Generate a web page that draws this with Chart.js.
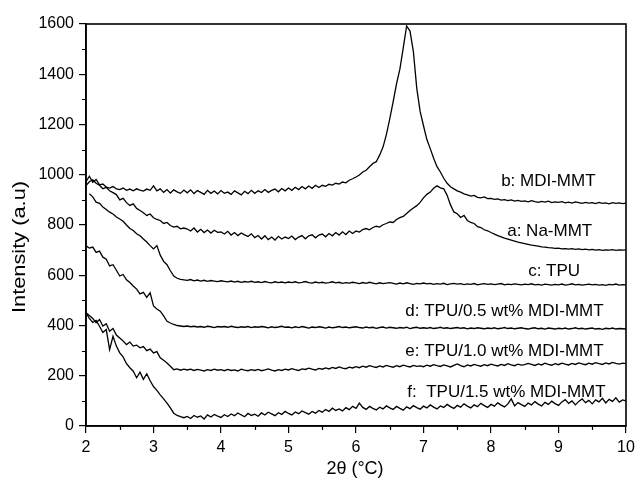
<!DOCTYPE html>
<html>
<head>
<meta charset="utf-8">
<script src="https://cdn.jsdelivr.net/npm/chart.js@4/dist/chart.umd.min.js"></script>
<style>
  html, body { margin: 0; padding: 0; background: #fff; }
  #wrap { width: 636px; height: 486px; }
</style>
</head>
<body>
<div id="wrap"><canvas id="c" width="636" height="486"></canvas></div>
<script>
// 2θ scan positions (degrees)
const twoTheta = [
  2.00,2.05,2.10,2.15,2.20,2.25,2.30,2.35,2.40,2.45,
  2.50,2.55,2.60,2.65,2.70,2.75,2.80,2.85,2.90,2.95,
  3.00,3.05,3.10,3.15,3.20,3.25,3.30,3.35,3.40,3.45,
  3.50,3.55,3.60,3.65,3.70,3.75,3.80,3.85,3.90,3.95,
  4.00,4.05,4.10,4.15,4.20,4.25,4.30,4.35,4.40,4.45,
  4.50,4.55,4.60,4.65,4.70,4.75,4.80,4.85,4.90,4.95,
  5.00,5.05,5.10,5.15,5.20,5.25,5.30,5.35,5.40,5.45,
  5.50,5.55,5.60,5.65,5.70,5.75,5.80,5.85,5.90,5.95,
  6.00,6.05,6.10,6.15,6.20,6.25,6.30,6.35,6.40,6.45,
  6.50,6.55,6.60,6.65,6.70,6.75,6.80,6.85,6.90,6.95,
  7.00,7.05,7.10,7.15,7.20,7.25,7.30,7.35,7.40,7.45,
  7.50,7.55,7.60,7.65,7.70,7.75,7.80,7.85,7.90,7.95,
  8.00,8.05,8.10,8.15,8.20,8.25,8.30,8.35,8.40,8.45,
  8.50,8.55,8.60,8.65,8.70,8.75,8.80,8.85,8.90,8.95,
  9.00,9.05,9.10,9.15,9.20,9.25,9.30,9.35,9.40,9.45,
  9.50,9.55,9.60,9.65,9.70,9.75,9.80,9.85,9.90,9.95,
  10.00
];

// b: MDI-MMT
const mdiMMT = [
  972,994,970,981,960,963,951,947,953,944,
  941,947,938,943,936,944,939,935,943,938,
  956,936,944,930,941,927,940,932,926,939,
  928,940,925,937,930,922,938,926,935,924,
  937,926,931,922,936,928,920,934,925,938,
  926,936,929,941,930,938,943,932,945,936,
  947,938,950,941,953,944,955,946,958,949,
  958,954,962,959,966,963,971,968,978,984,
  991,999,1011,1018,1032,1045,1052,1078,1110,1160,
  1222,1290,1362,1420,1505,1592,1572,1490,1345,1252,
  1195,1140,1104,1066,1032,1011,986,966,952,944,
  936,931,924,920,915,918,910,908,912,905,
  906,902,904,899,901,897,900,895,898,894,
  896,892,897,893,890,894,891,895,889,892,
  890,893,888,891,887,892,889,886,890,887,
  889,885,890,886,888,884,889,886,888,885,
  887
];

// a: Na-MMT
const naMMT = [
  957,972,980,966,958,944,950,936,929,921,
  900,906,889,878,884,866,858,849,838,844,
  829,822,818,806,810,798,792,795,785,788,
  784,776,788,772,783,770,780,768,779,771,
  772,764,775,760,770,758,768,761,754,765,
  750,758,744,757,742,752,740,755,744,752,
  746,756,742,752,758,745,757,761,749,760,
  764,753,766,757,770,760,773,762,776,766,
  776,772,782,786,781,790,795,792,801,806,
  812,810,822,829,834,846,858,868,877,890,
  908,922,931,946,956,948,944,918,880,852,
  845,830,838,818,810,806,793,790,781,777,
  770,764,758,753,748,744,740,736,732,729,
  726,723,720,718,716,713,712,710,709,707,
  708,705,706,704,706,703,705,702,704,701,
  703,700,702,699,701,700,702,699,701,700,
  701
];

// c: TPU
const tpu = [
  null,924,912,891,886,872,862,851,844,832,
  824,815,800,786,778,765,757,744,732,718,
  705,718,680,655,642,618,597,588,584,582,
  580,583,578,581,577,580,576,579,577,575,
  578,576,574,577,573,576,572,575,573,576,
  572,574,571,575,572,570,574,571,573,570,
  573,571,574,570,572,575,571,569,573,570,
  572,569,571,574,570,572,568,571,569,572,
  570,567,571,568,572,569,566,570,567,569,
  571,568,565,569,566,570,567,564,568,566,
  569,566,568,564,567,565,568,563,566,568,
  565,567,563,566,564,567,562,565,567,564,
  566,563,565,567,562,565,563,566,564,562,
  565,563,566,562,564,561,565,563,561,564,
  562,565,561,563,566,562,564,561,563,565,
  562,564,561,563,560,564,562,565,561,563,
  562
];

// d: TPU/0.5 wt% MDI-MMT
const tpu05 = [
  717,708,712,691,696,672,664,637,642,620,
  597,603,582,571,557,545,526,532,512,530,
  478,466,457,438,417,410,404,400,398,396,
  398,395,397,394,396,393,397,395,392,396,
  394,396,393,397,394,392,395,393,396,392,
  395,393,396,394,391,395,392,394,397,393,
  394,391,395,392,396,393,390,394,392,395,
  393,390,394,391,393,396,392,394,391,393,
  395,392,390,394,391,393,389,392,394,390,
  393,391,389,392,390,393,388,391,393,389,
  391,389,392,388,390,393,389,391,388,390,
  392,389,391,387,390,388,391,389,387,390,
  388,391,387,389,392,388,390,387,389,391,
  388,386,389,391,387,389,386,390,388,386,
  389,387,390,386,388,391,387,389,386,388,
  390,386,388,385,389,387,390,386,388,387,
  386
];

// e: TPU/1.0 wt% MDI-MMT
const tpu10 = [
  451,440,428,411,424,398,407,377,388,362,
  350,338,324,334,318,322,311,316,300,306,
  291,296,271,262,251,238,224,227,222,226,
  223,226,221,225,222,219,224,221,226,222,
  224,220,225,221,223,219,226,222,220,224,
  221,225,220,223,227,222,219,224,221,226,
  223,228,224,221,227,225,230,226,223,229,
  226,231,227,233,229,235,230,228,234,231,
  236,232,238,234,240,236,233,239,235,241,
  237,234,240,236,242,238,235,241,237,239,
  236,242,238,244,240,237,243,239,235,241,
  247,240,236,243,239,245,241,238,244,240,
  246,242,239,245,241,248,243,240,246,242,
  244,249,245,241,247,243,250,245,242,248,
  244,250,246,243,249,245,251,247,244,250,
  246,252,248,245,251,247,253,249,246,250,
  248
];

// f: TPU/1.5 wt% MDI-MMT
const tpu15 = [
  451,428,412,420,397,372,384,304,357,318,
  291,275,248,232,218,192,214,186,208,180,
  157,142,124,108,91,72,51,42,37,33,
  38,30,42,35,40,28,44,36,46,39,
  34,45,38,48,41,52,44,37,50,42,
  47,39,52,44,55,48,41,53,46,58,
  50,44,56,49,60,53,47,58,51,62,
  55,66,58,71,62,68,60,73,65,78,
  70,91,74,66,78,70,64,75,68,80,
  72,66,78,70,63,76,69,81,73,67,
  79,72,84,75,68,80,74,86,77,70,
  82,75,88,79,72,84,77,90,81,74,
  86,79,92,83,76,88,108,80,93,85,
  78,91,84,97,87,80,94,86,99,89,
  82,96,105,90,100,84,98,108,93,102,
  88,104,96,110,92,106,98,112,95,104,
  100
];

const seriesNames = ["b: MDI-MMT", "a: Na-MMT", "c: TPU",
  "d: TPU/0.5 wt% MDI-MMT", "e: TPU/1.0 wt% MDI-MMT", "f:  TPU/1.5 wt% MDI-MMT"];
const seriesValues = [mdiMMT, naMMT, tpu, tpu05, tpu10, tpu15];

// curve labels, anchored in data units (2θ, intensity) at the left/middle of the text
const labelX = [8.15, 8.24, 8.55, 6.73, 6.73, 6.76];
const labelY = [972, 776, 616, 456, 296, 136];

const xTitle = "2\u03b8 (\u00b0C)";
const yTitle = "Intensity (a.u)";

const FONT = "'Liberation Sans', Arial, Helvetica, sans-serif";

const datasets = seriesValues.map((vals, k) => ({
  label: seriesNames[k],
  data: twoTheta.map((t, i) => ({ x: t, y: vals[i] })),
  borderColor: '#000',
  borderWidth: 1.3,
  pointRadius: 0,
  tension: 0,
  spanGaps: false,
  fill: false
}));

const decorPlugin = {
  id: 'decor',
  afterDraw(chart) {
    const { ctx, chartArea: a, scales: { x, y } } = chart;
    ctx.save();
    // minor ticks
    ctx.strokeStyle = '#000';
    ctx.lineWidth = 1.2;
    ctx.beginPath();
    x.ticks.forEach(t => {
      if (Math.abs(t.value - Math.round(t.value)) > 1e-6) {
        const px = Math.round(x.getPixelForValue(t.value)) + 0.5;
        ctx.moveTo(px, a.bottom); ctx.lineTo(px, a.bottom + 4);
      }
    });
    y.ticks.forEach(t => {
      if (Math.round(t.value) % 200 !== 0) {
        const py = Math.round(y.getPixelForValue(t.value)) + 0.5;
        ctx.moveTo(a.left, py); ctx.lineTo(a.left - 4, py);
      }
    });
    ctx.stroke();
    // frame
    ctx.lineWidth = 1.6;
    ctx.strokeRect(a.left, a.top, a.right - a.left, a.bottom - a.top);
    // curve labels
    ctx.fillStyle = '#000';
    ctx.font = "17px " + FONT;
    ctx.textBaseline = 'middle';
    ctx.textAlign = 'left';
    seriesNames.forEach((name, k) => {
      ctx.fillText(name, x.getPixelForValue(labelX[k]), y.getPixelForValue(labelY[k]));
    });
    // x title
    ctx.font = "18px " + FONT;
    ctx.textAlign = 'center';
    ctx.fillText(xTitle, (a.left + a.right) / 2 - 1, 469);
    // y title (rotated, slightly stretched along its length like the original)
    ctx.font = "18px " + FONT;
    const w = ctx.measureText(yTitle).width;
    ctx.translate(20, 247);
    ctx.rotate(-Math.PI / 2);
    ctx.scale(132 / w, 1);
    ctx.fillText(yTitle, 0, 0);
    ctx.restore();
  }
};

new Chart(document.getElementById('c'), {
  type: 'line',
  data: { datasets },
  options: {
    responsive: false,
    animation: false,
    events: [],
    layout: { padding: { top: 24, right: 10, left: 0, bottom: 0 } },
    plugins: { legend: { display: false }, tooltip: { enabled: false } },
    scales: {
      x: {
        type: 'linear',
        min: 2, max: 10,
        afterFit: s => { s.height = 60; s.paddingRight = 0; s.paddingLeft = 0; },
        border: { display: true, color: '#000', width: 1.6 },
        grid: {
          display: true, drawOnChartArea: false, drawTicks: true, tickLength: 7,
          color: c => (c.tick && Math.abs(c.tick.value - Math.round(c.tick.value)) < 1e-6) ? '#000' : 'rgba(0,0,0,0)',
          lineWidth: 1.2
        },
        ticks: {
          stepSize: 0.5, autoSkip: false, maxRotation: 0, padding: 5,
          color: '#000', font: { family: FONT, size: 16 },
          callback: v => (Math.abs(v - Math.round(v)) < 1e-6 ? String(Math.round(v)) : '')
        }
      },
      y: {
        type: 'linear',
        min: 0, max: 1600,
        afterFit: s => { s.width = 86; },
        border: { display: true, color: '#000', width: 1.6 },
        grid: {
          display: true, drawOnChartArea: false, drawTicks: true, tickLength: 7,
          color: c => (c.tick && Math.round(c.tick.value) % 200 === 0) ? '#000' : 'rgba(0,0,0,0)',
          lineWidth: 1.2
        },
        ticks: {
          stepSize: 100, autoSkip: false, padding: 5,
          color: '#000', font: { family: FONT, size: 16 },
          callback: v => (Math.round(v) % 200 === 0 ? String(v) : '')
        }
      }
    }
  },
  plugins: [decorPlugin]
});
</script>
</body>
</html>
